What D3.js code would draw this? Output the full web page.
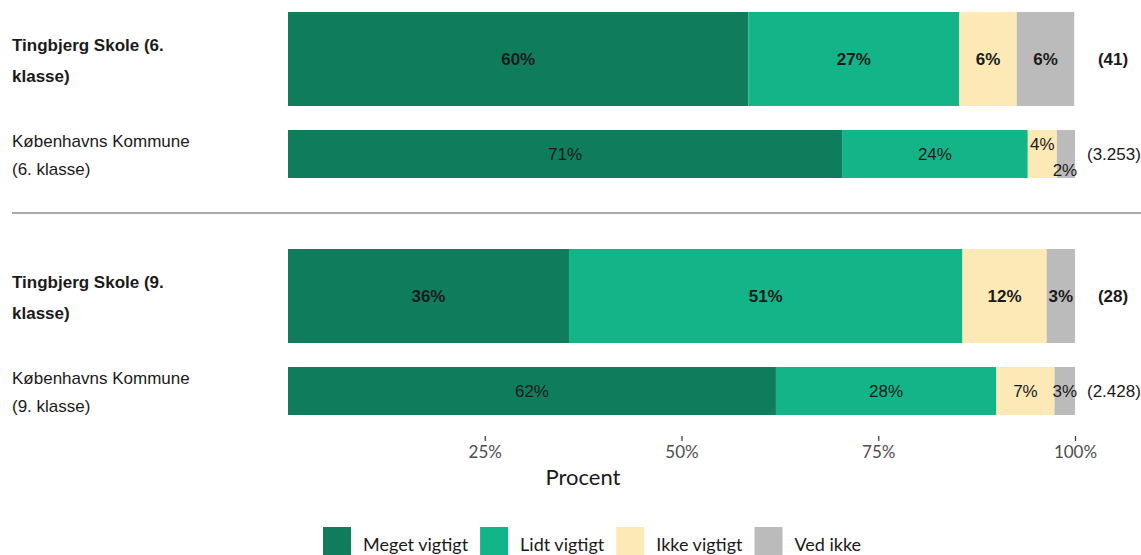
<!DOCTYPE html>
<html><head><meta charset="utf-8">
<script src="https://cdn.jsdelivr.net/npm/d3@7"></script>
<style>body{margin:0;background:#fff}svg{display:block}</style>
</head><body>
<svg id="c" width="1141" height="555"></svg>
<script>
const rowLabels = [["Tingbjerg Skole (6.","klasse)"],["Københavns Kommune","(6. klasse)"],["Tingbjerg Skole (9.","klasse)"],["Københavns Kommune","(9. klasse)"]];
const rowBold = [true,false,true,false];
const rowN = ["(41)","(3.253)","(28)","(2.428)"];
const categories = ["Meget vigtigt","Lidt vigtigt","Ikke vigtigt","Ved ikke"];
const meget = [58.5,70.4,35.7,62.0];
const lidt = [26.8,23.6,50.0,28.0];
const ikke = [7.3,3.7,10.7,7.4];
const vedIkke = [7.3,2.3,3.6,2.6];
const labelMeget = ["60%","71%","36%","62%"];
const labelLidt = ["27%","24%","51%","28%"];
const labelIkke = ["6%","4%","12%","7%"];
const labelVed = ["6%","2%","3%","3%"];
const ticks = [25,50,75,100];
const colors = ["#0f7d5c","#13b588","#fde9b6","#bbbbbb"];

const svg = d3.select("#c");
const x = d3.scaleLinear().domain([0,100]).range([288,1075]);
const rowsY = [12,130,249,367];
const rowsH = [94,48,94,48];
const series = [meget,lidt,ikke,vedIkke];
const labels = [labelMeget,labelLidt,labelIkke,labelVed];
const F = "Liberation Sans, Arial, sans-serif";

rowsY.forEach((y0,i)=>{
  let acc=0;
  const h=rowsH[i];
  const cy=y0+h/2;
  series.forEach((s,k)=>{
    const v=s[i];
    svg.append("rect").attr("x",x(acc)).attr("y",y0).attr("width",x(acc+v)-x(acc)).attr("height",h).attr("fill",colors[k]);
    let lx=(x(acc)+x(acc+v))/2, ly=cy+6;
    if(i===1 && k===2){ly=cy-4;}
    if(i===1 && k===3){ly=cy+22;lx-=1;}
    svg.append("text").attr("x",lx).attr("y",ly).attr("text-anchor","middle")
      .attr("font-family",F).attr("font-size",17)
      .attr("font-weight",rowBold[i]?"bold":"normal").attr("fill","#1a1a1a").text(labels[k][i]);
    acc+=v;
  });
  const t=svg.append("text").attr("font-family",F).attr("font-size",17)
    .attr("font-weight",rowBold[i]?"bold":"normal").attr("fill","#1a1a1a");
  const off = rowBold[i]?[-8,23]:[-7,21];
  rowLabels[i].forEach((ln,j)=>{
    t.append("tspan").attr("x",12).attr("y",cy+off[j]).text(ln);
  });
  svg.append("text").attr("x",rowBold[i]?1113:1087).attr("y",cy+6).attr("text-anchor",rowBold[i]?"middle":"start")
    .attr("font-family",F).attr("font-size",17)
    .attr("font-weight",rowBold[i]?"bold":"normal").attr("fill","#1a1a1a").text(rowN[i]);
});

svg.append("line").attr("x1",12).attr("x2",1141).attr("y1",213).attr("y2",213).attr("stroke","#8c8c8c").attr("stroke-width",1.3);

const ax = svg.append("g").attr("transform","translate(0,436)")
  .call(d3.axisBottom(x).tickValues(ticks).tickSize(5).tickPadding(5).tickFormat(d=>d+"%"));
ax.select(".domain").remove();
ax.selectAll(".tick line").attr("stroke","#333").attr("stroke-width",1.2);
ax.selectAll(".tick text").attr("font-family","Lato, sans-serif").attr("font-size",17).attr("fill","#4d4d4d");

svg.append("text").attr("x",583).attr("y",485).attr("text-anchor","middle")
  .attr("font-family","Lato, sans-serif").attr("font-size",22).attr("fill","#1a1a1a").text("Procent");

let lxp=323;
categories.forEach((c,k)=>{
  svg.append("rect").attr("x",lxp).attr("y",527).attr("width",28).attr("height",28).attr("fill",colors[k]);
  const tt=svg.append("text").attr("x",lxp+40).attr("y",551).attr("font-family","Lato, sans-serif").attr("font-size",18).attr("fill","#1a1a1a").text(c);
  lxp = lxp+40+tt.node().getComputedTextLength()+12;
});
</script>
</body></html>
